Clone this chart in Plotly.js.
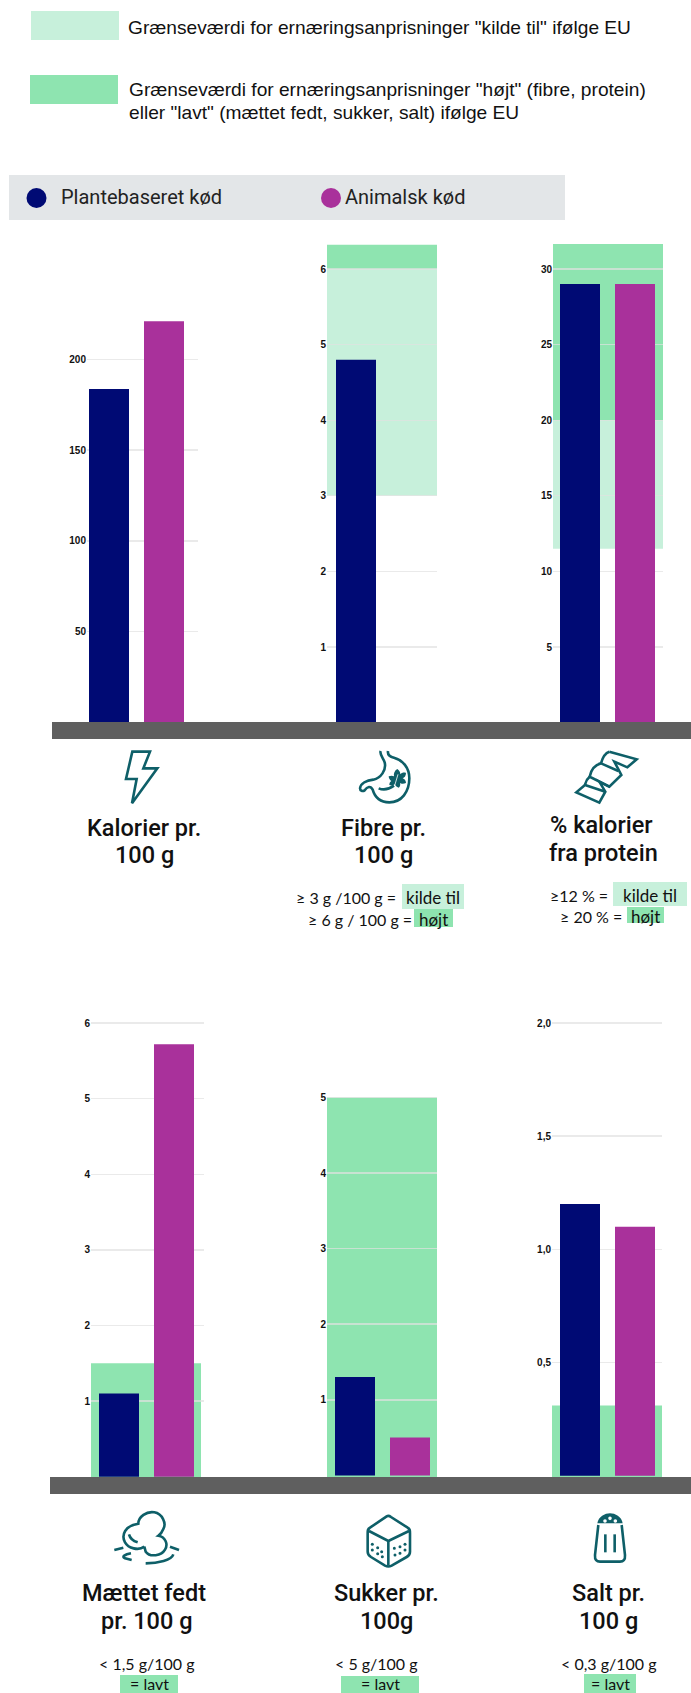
<!DOCTYPE html>
<html lang="da">
<head>
<meta charset="utf-8">
<title>Plantebaseret og animalsk kød</title>
<script src="https://cdn.plot.ly/plotly-3.0.1.min.js"></script>
<style>
  html, body { margin: 0; padding: 0; background: #fff; }
  #chart { width: 691px; height: 1693px; overflow: hidden; }
</style>
</head>
<body>
<div id="chart"></div>
<script>
// Nutrition values per product type
const categories = ['Plantebaseret kød', 'Animalsk kød'];
const kalorier = [183.6, 221];
const fibre = [4.8, 0];
const protein = [29, 29];
const maettetFedt = [1.1, 5.72];
const sukker = [1.3, 0.5];
const salt = [1.2, 1.1];

// EU claim limits, as [from, to] on each value axis
const fibreKilde = [3, 6];
const fibreHoejt = [6, 6.32];
const proteinKilde = [11.5, 20];
const proteinHoejt = [20, 31.65];
const fedtLavt = [0, 1.5];
const sukkerLavt = [0, 5];
const saltLavt = [0, 0.31];

// Axis ticks
const ticksKalorier = [50, 100, 150, 200];
const ticksGram = [1, 2, 3, 4, 5, 6];
const ticksSukker = [1, 2, 3, 4, 5];
const ticksProtein = [5, 10, 15, 20, 25, 30];
const ticksSalt = [0.5, 1, 1.5, 2];
const tickTextSalt = ['0,5', '1,0', '1,5', '2,0'];

const W = 691, H = 1693;
const NAVY = '#000a74', PURPLE = '#a9319b';
const LIGHT = '#c7f0db', DARK = '#8ee4b0';
const TEAL = '#0e5f68', INK = '#111111', BASE = '#5f5f5f';
const HEAD = 'Roboto, sans-serif', SMALL = 'Lato, sans-serif', ARIAL = '"Liberation Sans", Arial, sans-serif';

const px = v => v / W;
const py = v => 1 - v / H;

// Panel frames in page pixels: plot box, zero line and scale
const PITCH = 55, BAR = 40, BAND = 110;
const panels = [
  { values: kalorier, ticks: ticksKalorier, left: 87, right: 198, c0: 109, top: 240, bottom: 722, zero: 722.5, unit: 1.816, bands: [] },
  { values: fibre, ticks: ticksGram, left: 327, right: 437, c0: 356, top: 240, bottom: 722, zero: 722.6, unit: 75.6, bands: [[fibreKilde, LIGHT], [fibreHoejt, DARK]] },
  { values: protein, ticks: ticksProtein, left: 553, right: 663, c0: 580, top: 240, bottom: 722, zero: 722.6, unit: 15.12, bands: [[proteinKilde, LIGHT], [proteinHoejt, DARK]] },
  { values: maettetFedt, ticks: ticksGram, left: 91, right: 204, c0: 119, top: 1010, bottom: 1477, zero: 1476.7, unit: 75.6, bands: [[fedtLavt, DARK]] },
  { values: sukker, ticks: ticksSukker, left: 327, right: 437, c0: 355, top: 1010, bottom: 1477, zero: 1475.4, unit: 75.6, bands: [[sukkerLavt, DARK]] },
  { values: salt, ticks: ticksSalt, tickText: tickTextSalt, left: 552, right: 662, c0: 580, top: 1010, bottom: 1477, zero: 1475.8, unit: 226.4, bands: [[saltLavt, DARK]] }
];

const traces = [];
const shapes = [];
const annotations = [];
const layout = {
  width: W, height: H,
  margin: { l: 0, r: 0, t: 0, b: 0 },
  paper_bgcolor: '#ffffff',
  plot_bgcolor: 'rgba(0,0,0,0)',
  showlegend: false,
  barmode: 'overlay',
  font: { family: ARIAL, color: INK }
};

panels.forEach((p, i) => {
  const n = i === 0 ? '' : String(i + 1);
  const yMin = (p.zero - p.bottom) / p.unit;
  const yMax = (p.zero - p.top) / p.unit;
  layout['xaxis' + n] = {
    type: 'category',
    categoryorder: 'array',
    categoryarray: categories,
    domain: [px(p.left), px(p.right)],
    range: [(p.left - p.c0) / PITCH, (p.right - p.c0) / PITCH],
    anchor: 'y' + n,
    showgrid: false, zeroline: false, showline: false, showticklabels: false, ticks: ''
  };
  layout['yaxis' + n] = {
    domain: [py(p.bottom), py(p.top)],
    range: [yMin, yMax],
    anchor: 'x' + n,
    tickmode: 'array',
    tickvals: p.ticks,
    ticktext: p.tickText || p.ticks.map(String),
    tickfont: { family: ARIAL, size: 10, weight: 700, color: '#111111' },
    ticklabelshift: 1.5,
    showgrid: true, gridcolor: 'rgba(225,225,225,0.7)', gridwidth: 1.4,
    zeroline: false, showline: false, ticks: ''
  };
  p.bands.forEach(([range, color]) => {
    shapes.push({
      type: 'rect', layer: 'below',
      xref: 'x' + n + ' domain', yref: 'y' + n,
      x0: 0, x1: BAND / (p.right - p.left),
      y0: range[0] === 0 ? yMin : range[0], y1: range[1],
      fillcolor: color, line: { width: 0 }
    });
  });
  traces.push({
    type: 'bar',
    x: categories, y: p.values,
    xaxis: 'x' + n, yaxis: 'y' + n,
    width: BAR / PITCH,
    marker: { color: [NAVY, PURPLE], line: { width: 0 } },
    hoverinfo: 'skip'
  });
});

// Page-level rectangles and text
function box(x0, y0, x1, y1, color, layer) {
  shapes.push({
    type: 'rect', xref: 'paper', yref: 'paper', layer: layer || 'above',
    x0: px(x0), x1: px(x1), y0: py(y1), y1: py(y0),
    fillcolor: color, line: { width: 0 }
  });
}
function label(text, x, baseline, size, family, opts) {
  const o = opts || {};
  annotations.push({
    text, showarrow: false, xref: 'paper', yref: 'paper',
    x: px(x), y: py(baseline - 0.34 * size),
    xanchor: o.anchor || 'center', yanchor: 'middle',
    borderpad: 0, align: o.anchor || 'center',
    font: { family, size, color: o.color || INK, weight: o.weight || 400 }
  });
}

// Baselines under the plots
box(52, 722, 691, 739, BASE);
box(50, 1477, 691, 1494, BASE);

// Key for the limit bands
box(31, 11, 119, 40, LIGHT);
box(30, 75, 118, 104, DARK);
label('Grænseværdi for ernæringsanprisninger "kilde til" ifølge EU', 127, 34, 19.15, ARIAL, { anchor: 'left', color: '#111' });
label('Grænseværdi for ernæringsanprisninger "højt" (fibre, protein)', 128, 96, 19.15, ARIAL, { anchor: 'left', color: '#111' });
label('eller "lavt" (mættet fedt, sukker, salt) ifølge EU', 128, 119, 19.15, ARIAL, { anchor: 'left', color: '#111' });

// Key for the two series
box(9, 175, 565, 220, '#e3e6e8', 'below');
function dot(cx, cy, r, color) {
  shapes.push({
    type: 'circle', xref: 'paper', yref: 'paper',
    x0: px(cx - r), x1: px(cx + r), y0: py(cy + r), y1: py(cy - r),
    fillcolor: color, line: { width: 0 }
  });
}
dot(36.5, 198, 10, NAVY);
dot(331, 198, 10, PURPLE);
label(categories[0], 60, 204, 20, HEAD, { anchor: 'left', color: '#222' });
label(categories[1], 344, 204, 20, HEAD, { anchor: 'left', color: '#222' });

// Panel headings
const head = (t, x, b) => label(t, x, b, 23.5, HEAD, { weight: 500, color: '#111' });
head('Kalorier pr.', 144, 836); head('100 g', 144.5, 863);
head('Fibre pr.', 383, 836); head('100 g', 383, 863);
head('% kalorier', 601, 833); head('fra protein', 603, 861);
head('Mættet fedt', 144, 1601); head('pr. 100 g', 146.5, 1629);
head('Sukker pr.', 386, 1601); head('100g', 387, 1629);
head('Salt pr.', 608, 1601); head('100 g', 608, 1629);

// Limit notes with highlighted wording
const note = (t, x, b, a, s) => label(t, x, b, s || 16, SMALL, { anchor: a || 'center' });
box(402, 884, 464, 909, LIGHT);
box(414, 909, 453, 927, DARK);
note('≥ 3 g /100 g =', 397, 903, 'right'); note('kilde til', 432.5, 903, 'center', 17);
note('≥ 6 g / 100 g =', 413, 925, 'right'); note('højt', 433, 925, 'center', 17);
box(613, 882, 687, 906, LIGHT);
box(627, 907, 664, 923, DARK);
note('≥12 % =', 609, 901, 'right'); note('kilde til', 650, 901, 'center', 17);
note('≥ 20 % =', 623, 922, 'right'); note('højt', 645.5, 922, 'center', 17);
box(120, 1675, 178, 1693, DARK);
box(341, 1676, 419, 1693, DARK);
box(584, 1674, 636, 1693, DARK);
note('< 1,5 g/100 g', 146, 1669); note('= lavt', 149, 1689, 'center', 16);
note('< 5 g/100 g', 377, 1669); note('= lavt', 380, 1689, 'center', 16);
note('< 0,3 g/100 g', 608, 1669); note('= lavt', 610, 1689, 'center', 16);

// Line icons, sketched on a 3x grid from an origin point
function icon(ox, oy, d, filled, stroke) {
  const path = d.replace(/(-?[\d.]+) (-?[\d.]+)/g, (m, a, b) =>
    px(ox + a / 3).toFixed(6) + ',' + py(oy + b / 3).toFixed(6));
  shapes.push({
    type: 'path', xref: 'paper', yref: 'paper', path,
    fillcolor: filled ? TEAL : 'rgba(0,0,0,0)',
    line: filled ? { width: 0 } : (stroke || { color: TEAL, width: 2.6 })
  });
}
function speck(ox, oy, list, r, color) {
  list.forEach(([a, b]) => dot(ox + a / 3, oy + b / 3, r, color || TEAL));
}

// Energy bolt
icon(120, 745, 'M 37 20 L 90 20 L 70 70 L 112 70 L 36 175 L 50 102 L 18 102 Z');

// Stomach with leaf
icon(350, 745, 'M 92 18 C 88 28 100 40 104 52 C 110 75 92 100 70 104 C 50 106 32 115 30 130 C 30 138 38 140 44 136 C 52 124 62 122 68 134 C 74 155 90 172 118 172 C 155 172 178 140 178 100 C 178 68 158 45 132 38 C 120 35 112 30 114 18');
icon(350, 745, 'M 86 130 C 100 136 118 132 132 122');
icon(350, 745, 'M 142 72 C 150 78 152 84 150 88 C 156 82 164 82 168 84 C 168 92 164 98 158 100 C 164 102 168 108 168 114 C 160 118 152 116 150 114 C 152 120 150 126 146 128 C 140 126 136 122 134 118 C 130 122 124 122 118 120 C 118 114 120 110 124 108 C 120 106 116 100 116 94 C 122 92 128 92 132 94 C 130 86 134 76 142 72 Z', true);
icon(350, 745, 'M 134 122 L 144 88', false, { color: '#ffffff', width: 0.8 });

// Protein ribbon, folded back and forth
icon(565, 745, 'M 133 20 L 215 43 L 187 67 L 148 50 L 169 90 L 133 125 L 103 110 L 121 140 L 103 173 L 34 142 L 60 120 L 121 140');
icon(565, 745, 'M 133 20 C 118 25 112 40 108 55 L 160 78');
icon(565, 745, 'M 108 55 C 90 60 78 75 74 95 L 133 125');
icon(565, 745, 'M 74 95 C 62 105 62 112 60 120');

// Saturated fat blob and drips
icon(105, 1505, 'M 118 125 C 100 138 70 130 60 112 C 48 90 60 62 100 56 C 100 35 125 18 148 22 C 172 26 185 55 175 72 C 172 80 168 86 160 92 C 182 96 190 118 180 134 C 170 152 135 158 122 140 L 118 125');
icon(105, 1505, 'M 72 88 C 75 100 85 108 98 112');
icon(105, 1505, 'M 28 135 L 55 128');
icon(105, 1505, 'M 195 125 L 222 135');
icon(105, 1505, 'M 78 145 C 60 148 48 155 60 160 L 80 165');
icon(105, 1505, 'M 122 175 C 160 175 200 165 205 148');

// Sugar cube
icon(355, 1505, 'M 95 34 L 45 68 C 38 72 38 76 38 85 L 38 140 C 38 148 42 152 48 156 L 90 182 C 98 186 102 186 110 182 L 155 156 C 162 152 165 148 165 140 L 165 85 C 165 76 165 72 158 68 L 108 36 C 103 32 98 32 95 34 Z');
icon(355, 1505, 'M 42 78 L 100 108 L 162 78');
icon(355, 1505, 'M 100 108 L 100 182');
speck(355, 1505, [[52, 118], [68, 128], [52, 135], [68, 146], [80, 140], [82, 155], [150, 118], [135, 125], [118, 130], [150, 135], [135, 145], [120, 150]], 1.5);

// Salt shaker
icon(580, 1505, 'M 52 55 C 55 35 75 25 90 25 C 105 25 125 35 128 55 Z', true);
speck(580, 1505, [[75, 48], [90, 40], [106, 48]], 1.8, '#ffffff');
icon(580, 1505, 'M 55 60 L 45 150 C 44 165 50 170 60 170 L 120 170 C 130 170 136 165 135 150 L 125 60');
icon(580, 1505, 'M 76 88 L 76 142');
icon(580, 1505, 'M 104 88 L 104 142');

layout.shapes = shapes;
layout.annotations = annotations;

Plotly.newPlot('chart', traces, layout, { staticPlot: true, displayModeBar: false, responsive: false });
</script>
</body>
</html>
